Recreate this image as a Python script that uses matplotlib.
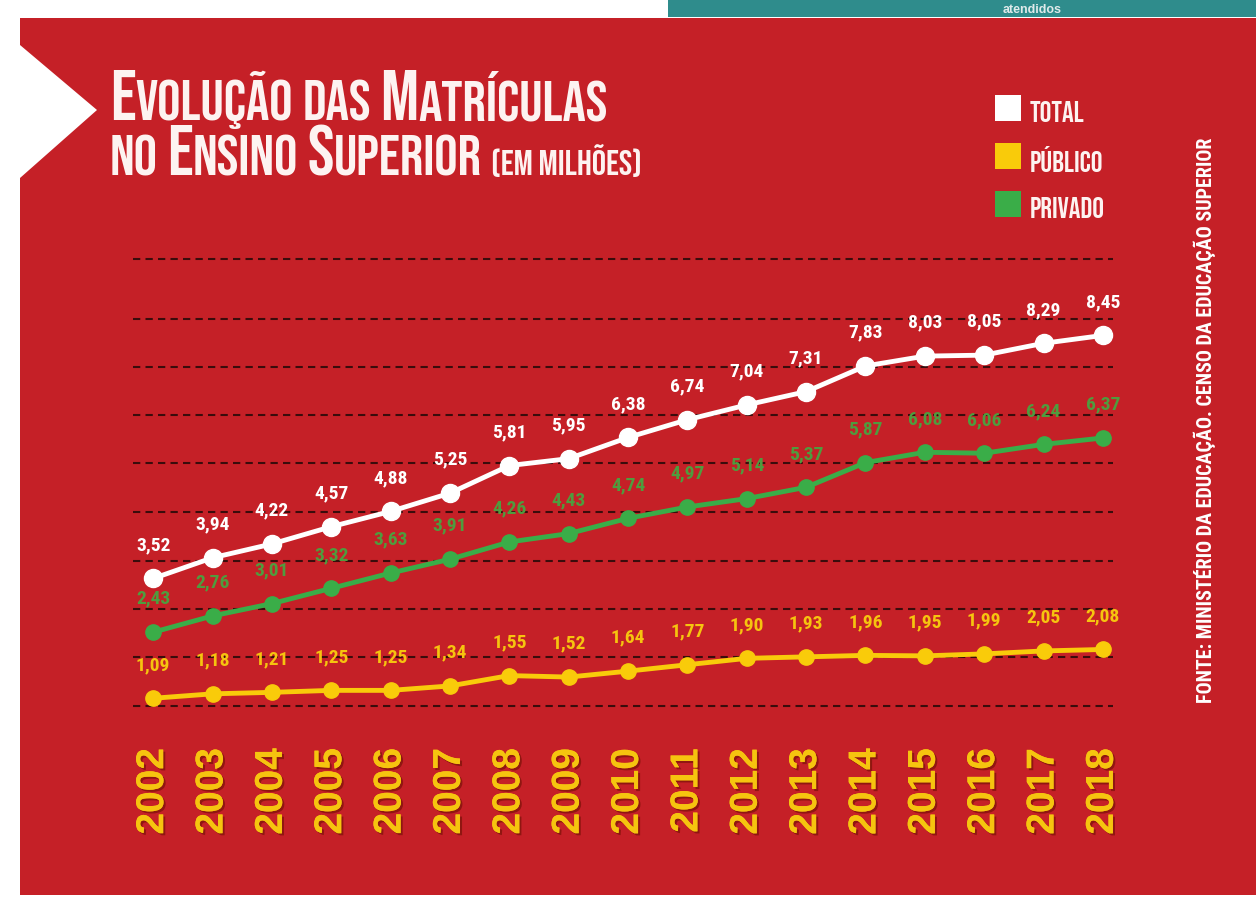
import matplotlib
matplotlib.use("Agg")
import matplotlib.pyplot as plt
import matplotlib.patheffects as pe
from matplotlib.patches import Rectangle, Polygon
from matplotlib.transforms import IdentityTransform

# data (milhões de matrículas)
years = list(range(2002, 2019))
total = [3.52, 3.94, 4.22, 4.57, 4.88, 5.25, 5.81, 5.95, 6.38,
         6.74, 7.04, 7.31, 7.83, 8.03, 8.05, 8.29, 8.45]
publico = [1.09, 1.18, 1.21, 1.25, 1.25, 1.34, 1.55, 1.52, 1.64,
           1.77, 1.90, 1.93, 1.96, 1.95, 1.99, 2.05, 2.08]
privado = [2.43, 2.76, 3.01, 3.32, 3.63, 3.91, 4.26, 4.43, 4.74,
           4.97, 5.14, 5.37, 5.87, 6.08, 6.06, 6.24, 6.37]
legend_labels = ["TOTAL", "PÚBLICO", "PRIVADO"]

# dashed guide lines of the infographic (value levels)
GRID_LEVELS = [0.93, 1.93, 2.90, 3.87, 4.87, 5.86, 6.84, 7.81, 8.78, 10.0]

RED = "#c52027"
TEAL = "#2f8c8c"
WHITE = "#ffffff"
YELLOW = "#f9cb0a"
YELLOW_TXT = "#f6c40f"
GREEN = "#3aad48"
GREEN_TXT = "#4f9c3e"
GRID = "#3a0c0c"

GOTHIC = ["Bebas Neue", "DejaVu Sans"]
COND = ["Roboto Condensed", "DejaVu Sans"]
SANS = ["Liberation Sans", "DejaVu Sans"]

W, H = 1256, 897
fig = plt.figure(figsize=(W / 100, H / 100), dpi=100)
fig.patch.set_facecolor("white")
renderer = fig.canvas.get_renderer()


def fx(x):
    return x / W


def fy(y):
    return 1 - y / H


def text_width(s, size, family, weight="bold"):
    if s.strip() == "":
        return text_width("x" + s + "x", size, family) - text_width("xx", size, family)
    t = fig.text(0, 0, s, fontsize=size, family=family, weight=weight)
    w = t.get_window_extent(renderer).width
    t.remove()
    return w


def draw_pieces(x, y, pieces, base, family, color):
    # y is the pixel baseline measured from the top
    for s, rel in pieces:
        size = base * rel
        if s.strip():
            fig.text(x, H - y, s, fontsize=size, family=family, weight="bold",
                     color=color, va="baseline", ha="left",
                     transform=IdentityTransform())
        x += text_width(s, size, family)


def line_width(pieces, base, family):
    return sum(text_width(s, base * rel, family) for s, rel in pieces)


# background shapes
fig.add_artist(Rectangle((fx(20), fy(895)), (W - 20) / W, (895 - 18) / H,
                         transform=fig.transFigure, facecolor=RED,
                         edgecolor="none", zorder=0))
fig.add_artist(Polygon([(fx(20), fy(45)), (fx(97), fy(110)), (fx(20), fy(178))],
                       closed=True, transform=fig.transFigure,
                       facecolor="white", edgecolor="none", zorder=1))
fig.add_artist(Rectangle((fx(668), fy(17)), (W - 668) / W, 17 / H,
                         transform=fig.transFigure, facecolor=TEAL,
                         edgecolor="none", zorder=1))
fig.text(fx(1032), fy(13), "atendidos", ha="center", va="baseline",
         fontsize=9, family=SANS, weight="bold", color="#dfeaea")

# title with small caps look
S = 0.82
line1 = [("E", 1), ("VOLUÇÃO", S), (" ", S), ("DAS", S), (" ", S),
         ("M", 1), ("ATRÍCULAS", S)]
line2 = [("NO", S), (" ", S), ("E", 1), ("NSINO", S), (" ", S),
         ("S", 1), ("UPERIOR", S), (" ", S), ("(EM MILHÕES)", 0.5)]
base = 46
base = base * 498 / line_width(line1, base, GOTHIC)
draw_pieces(110, 120, line1, base, GOTHIC, "#fdf3f1")
draw_pieces(110, 175, line2, base, GOTHIC, "#fdf3f1")

# legend
for i, (lab, col) in enumerate(zip(legend_labels, [WHITE, YELLOW, GREEN])):
    yc = 108 + i * 48
    fig.add_artist(Rectangle((fx(995), fy(yc + 13)), 26 / W, 26 / H,
                             transform=fig.transFigure, facecolor=col,
                             edgecolor="none"))
    fig.text(fx(1030), fy(yc + 3), lab, ha="left", va="center", fontsize=21,
             family=GOTHIC, weight="bold", color="#fdf3f1")

# source
src = "FONTE: MINISTÉRIO DA EDUCAÇÃO. CENSO DA EDUCAÇÃO SUPERIOR"
src_size = 16 * 570 / text_width(src, 16, COND)
fig.text(fx(1205), fy(420), src, rotation=90, ha="center", va="center",
         fontsize=src_size, family=COND, weight="bold", color="white")

# chart area
ax = fig.add_axes([fx(133), fy(752), (1113 - 133) / W, (752 - 240) / H])
ax.set_facecolor("none")
ax.set_xlim(2001.66, 2018.17)
ax.set_ylim(0, 512 / 49.3)
for sp in ax.spines.values():
    sp.set_visible(False)
ax.set_xticks([])
ax.set_yticks([])

for lvl in GRID_LEVELS:
    ax.axhline(lvl, color=GRID, lw=1.5, dashes=(3.5, 2.5), zorder=1)


def fmt(v):
    return f"{v:.2f}".replace(".", ",")


series = [
    (publico, YELLOW, YELLOW_TXT, 11),
    (privado, GREEN, GREEN_TXT, 11),
    (total, WHITE, WHITE, 13),
]
for vals, col, tcol, ms in series:
    ax.plot(years, vals, color=col, lw=3.5, marker="o", ms=ms,
            solid_capstyle="round", zorder=3)
    for x, v in zip(years, vals):
        ax.annotate(fmt(v), (x, v), xytext=(0, 24), textcoords="offset points",
                    ha="center", va="center", fontsize=14, family=COND,
                    weight="bold", color=tcol, zorder=4)

shadow = [pe.withSimplePatchShadow(offset=(1.5, -1.5), shadow_rgbFace="#7a1208",
                                   alpha=0.7), pe.Normal()]
for x in years:
    ax.text(x, 0.08, str(x), rotation=90, ha="center", va="top", fontsize=28,
            family=SANS, weight="bold", color=YELLOW_TXT, path_effects=shadow)

fig.savefig("out.png", dpi=100, facecolor=fig.get_facecolor())
